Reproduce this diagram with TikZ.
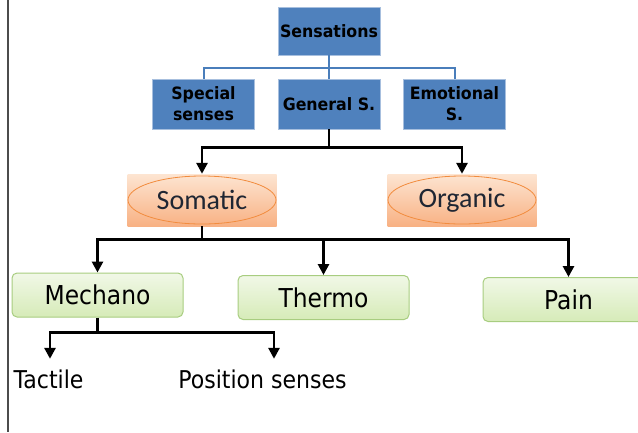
\documentclass[tikz,border=0pt]{standalone}
\usepackage{fontspec}
\setmainfont{DejaVu Sans}
\newfontfamily\tahoma[FakeStretch=0.9]{DejaVu Sans}
\newfontfamily\tahomabd[FakeStretch=0.93]{DejaVu Sans Bold}
\newfontfamily\calibri{Carlito}
\usetikzlibrary{arrows.meta,positioning,shapes.geometric}
\definecolor{ofblue}{HTML}{4F81BD}
\definecolor{ofedge}{HTML}{A7BFDE}
\definecolor{wire}{HTML}{4A7EBB}
\definecolor{peach}{HTML}{FDE5D2}
\definecolor{apricot}{HTML}{F8B183}
\definecolor{rim}{HTML}{F28C3E}
\definecolor{mint}{HTML}{F1F8E7}
\definecolor{lime}{HTML}{D6EBB8}
\definecolor{fern}{HTML}{A8CD80}
\definecolor{ink}{HTML}{1F2633}
\tikzset{
  bluebox/.style={draw=ofedge,line width=0.8pt,fill=ofblue,minimum width=102pt,minimum height=50pt,inner sep=2pt,align=center,font=\tahomabd\fontsize{17}{21}\selectfont,text=black},
  glow/.style={top color=peach,bottom color=apricot,minimum width=149pt,minimum height=52pt,inner sep=0pt},
  oval/.style={ellipse,draw=rim,line width=0.8pt,minimum width=148pt,minimum height=48pt,inner sep=0pt,font=\calibri\fontsize{28}{30}\selectfont,text=ink},
  greenbox/.style={draw=fern,line width=1pt,rounded corners=5pt,top color=mint,bottom color=lime,minimum width=171pt,minimum height=44pt,inner sep=0pt,font=\tahoma\fontsize{26}{28}\selectfont,text=black},
  leaflbl/.style={font=\tahoma\fontsize{24.5}{28}\selectfont,inner xsep=0pt,inner ysep=11pt,text height=18pt,text depth=5pt,anchor=base},
  twig/.style={draw=wire,line width=2pt},
  arrow/.style={-{Triangle[width=11pt,length=11pt]},line width=2.8pt,black},
}
\begin{document}
\begin{tikzpicture}[x=1pt,y=-1pt]
    \useasboundingbox (0,0) rectangle (638,432);
    \clip (0,0) rectangle (638,432);
    \draw[line width=2pt,black!70] (8,0) -- (8,432);
    % top level
    \node[bluebox,minimum height=48pt] (sens) at (329,31) {Sensations};
    \node[bluebox] (spec) at (203.5,104) {Special\\senses};
    \node[bluebox] (gen) at (329,104) {General S.};
    \node[bluebox] (emo) at (454.5,104) {Emotional\\S.};
    \draw[twig] (sens) -- (gen);
    \draw[twig] (spec.north) |- ([yshift=11pt]gen.north) -| (emo.north);
    % somatic / organic
    \node[glow] (somabg) at (202,200) {};
    \node[oval] (soma) at (somabg) {Somatic};
    \node[glow] (orgabg) at (462,200) {};
    \node[oval] (orga) at (orgabg) {Organic};
    \coordinate (j1) at ([yshift=-18pt]gen.south);
    \draw[arrow] (gen) -- (j1) -| (somabg.north);
    \draw[arrow] (j1) -| (orgabg.north);
    % receptors
    \node[greenbox] (mech) at (97.5,295) {Mechano};
    \node[greenbox] (therm) at (323.5,297.5) {Thermo};
    \node[greenbox] (pain) at (568.5,299.5) {Pain};
    \coordinate (j2) at ([yshift=-13pt]somabg.south);
    \draw[arrow] (somabg.south) -- (j2) -| (mech.north);
    \draw[arrow] (j2) -| (therm.north);
    \draw[arrow] (j2) -| (pain.north);
    % mechano branches
    \node[leaflbl] (tact) at (48.5,388) {Tactile};
    \node[leaflbl] (pos) at (262.5,388) {Position senses};
    \coordinate (j3) at ([yshift=-15pt]mech.south);
    \draw[arrow] (mech.south) -- (j3) -| ([xshift=1.5pt]tact.north);
    \draw[arrow] (j3) -| ([xshift=11.5pt]pos.north);
  \end{tikzpicture}
\end{document}
